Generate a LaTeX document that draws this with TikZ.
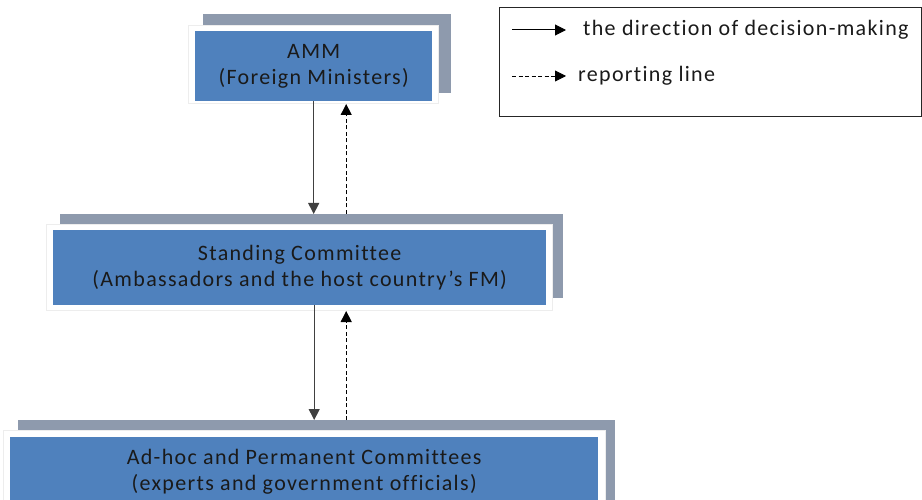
\documentclass[tikz,border=0pt]{standalone}
\usepackage{fontspec}
\setmainfont{Carlito}
\newfontfamily\boxfont[LetterSpace=6,Ligatures=CommonOff]{Carlito}
\usetikzlibrary{arrows.meta,calc}
\definecolor{boxblue}{HTML}{4F81BD}
\definecolor{backgray}{HTML}{8E9AAD}
\definecolor{framegray}{HTML}{EDEDED}
\definecolor{txt}{HTML}{1A1A1A}
\tikzset{
  back/.style={fill=backgray, draw=none},
  frame/.style={fill=white, draw=framegray, line width=1pt},
  bluebox/.style={fill=boxblue, draw=none, text=txt, align=center, font=\boxfont\fontsize{22}{26}\selectfont, inner sep=0pt},
  decide/.style={draw=black!75, line width=1pt, -{Triangle[length=11pt,width=11pt]}},
  report/.style={draw=black, line width=0.9pt, dash pattern=on 4pt off 2.5pt, -{Triangle[length=11pt,width=11pt]}},
  legtext/.style={anchor=west, text=txt, font=\boxfont\fontsize{22}{24}\selectfont, inner sep=0pt}
}
\begin{document}
\begin{tikzpicture}[x=1pt,y=-1pt]
\useasboundingbox (0,0) rectangle (922,500);
\fill[white] (0,0) rectangle (922,500);
% AMM
\node[back, minimum width=248pt, minimum height=79pt, anchor=north west] (ammback) at (203,14) {};
\node[frame, minimum width=250pt, minimum height=78pt, anchor=north west] (ammframe) at (188,25) {};
\node[bluebox, minimum width=237pt, minimum height=70pt, anchor=north west] (amm) at (195,31) {AMM\\(Foreign Ministers)};
% Standing Committee
\node[back, minimum width=503pt, minimum height=84pt, anchor=north west] (scback) at (60,214) {};
\node[frame, minimum width=506pt, minimum height=86pt, anchor=north west] (scframe) at (46,224) {};
\node[bluebox, minimum width=493pt, minimum height=75pt, anchor=north west] (sc) at (53,230) {Standing Committee\\(Ambassadors and the host country’s FM)};
% Ad-hoc
\node[back, minimum width=597pt, minimum height=90pt, anchor=north west] (adback) at (18,420) {};
\node[frame, minimum width=602pt, minimum height=80pt, anchor=north west] (adframe) at (3,430) {};
\node[bluebox, minimum width=588pt, minimum height=73pt, anchor=north west] (ad) at (10,437) {};
\node[bluebox, fill=none, anchor=north] (adtext) at ($(ad.north)+(0,12)$) {Ad-hoc and Permanent Committees\\(experts and government officials)};
% connectors
\draw[decide] (amm.south) -- (amm.south |- scback.north);
\draw[report] ([xshift=32.5pt]amm.south |- scback.north) -- ([xshift=32.5pt]amm.south |- ammframe.south);
\draw[decide] ([xshift=14.5pt]sc.south) -- ([xshift=14.5pt]sc.south |- adback.north);
\draw[report] ([xshift=46.5pt]sc.south |- adback.north) -- ([xshift=46.5pt]sc.south |- scframe.south);
% legend
\node[draw=black!85, line width=1pt, minimum width=422pt, minimum height=109pt, anchor=north west, inner sep=0pt] (legend) at (499,7) {};
\coordinate (l1a) at (512,30);
\coordinate (l1b) at (566,30);
\coordinate (l2a) at (512,76);
\coordinate (l2b) at (566,76);
\draw[decide, draw=black] (l1a) -- (l1b);
\draw[report] (l2a) -- (l2b);
\node[legtext] (t1) at (583,30) {the direction of decision-making};
\node[legtext] (t2) at (578,76) {reporting line};
\end{tikzpicture}
\end{document}
